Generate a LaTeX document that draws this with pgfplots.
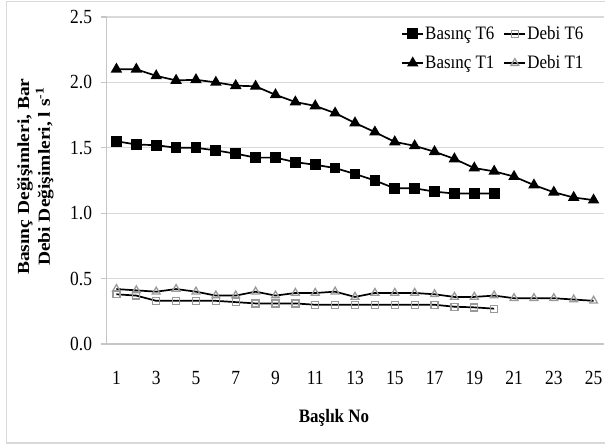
\documentclass[border=0pt]{standalone}
\usepackage{fontspec}
\setmainfont{Liberation Serif}
\usepackage{pgfplots}
\pgfplotsset{compat=1.18}
\begin{document}
\begin{tikzpicture}[x=1bp,y=1bp]
\useasboundingbox (0,0) rectangle (605,445);
\draw[gray!30, line width=1.5bp] (6.5,2) rectangle (610,443.5);
\begin{axis}[
  at={(106.5bp,101bp)}, anchor=south west,
  scale only axis, width=497bp, height=327bp,
  xmin=0.5, xmax=25.5, ymin=0, ymax=2.5,
  xtick={1,3,...,25},
  ytick={0,0.5,...,2.5},
  yticklabel style={/pgf/number format/fixed,/pgf/number format/precision=1,/pgf/number format/fixed zerofill, xshift=-5bp},
  /pgf/number format/assume math mode=true,
  ticklabel style={font=\fontsize{17.5}{20}\selectfont, yscale=1.15},
  xticklabel style={anchor=center, yshift=-24bp},
  xtick style={draw=none},
  ytick style={gray!45, line width=1.2bp},
  tick align=outside, major tick length=6bp,
  axis lines*=left,
  axis line style={gray!45, line width=1.3bp, -},
  ymajorgrids, grid style={gray!30, line width=1.3bp},
  xlabel={Başlık No},
  xlabel style={font=\fontsize{17}{20}\selectfont\bfseries, at={(axis description cs:0.5,0)}, anchor=center, yshift=-74bp, xshift=-21bp, yscale=1.12},
  ylabel={Basınç Değişimleri, Bar\\Debi Değişimleri, l s\textsuperscript{-1}},
  ylabel style={font=\fontsize{17}{21}\selectfont\bfseries, align=center, at={(axis description cs:-0.143,0.512)}, anchor=center, xscale=1.15},
  legend columns=2,
  legend style={at={(rel axis cs:1,1)}, anchor=north east, xshift=-19bp, yshift=-7bp, draw=none, fill=none, font=\fontsize{17}{20}\selectfont, inner sep=0pt,
    /tikz/every even column/.append style={column sep=8bp}, row sep=10bp, nodes={yscale=1.12, inner xsep=1bp}},
  legend cell align=left,
  legend image code/.code={\draw[mark repeat=2,mark phase=2] plot coordinates {(0cm,0cm) (0.375cm,0cm) (0.75cm,0cm)};},
  every axis plot/.append style={black, line width=1.7bp},
]
\addplot[mark=square*, mark size=4.5bp, mark options={fill=black, solid}] coordinates {
(1,1.55) (2,1.525) (3,1.52) (4,1.50) (5,1.50) (6,1.48) (7,1.455) (8,1.425) (9,1.425) (10,1.39)
(11,1.37) (12,1.345) (13,1.30) (14,1.25) (15,1.19) (16,1.19) (17,1.165) (18,1.15) (19,1.15) (20,1.15)};
\addlegendentry{Basınç T6}
\addplot[mark=square, mark size=3.5bp, mark options={draw=gray!80, fill=white, line width=1.3bp, solid}] coordinates {
(1,0.38) (2,0.37) (3,0.33) (4,0.33) (5,0.33) (6,0.33) (7,0.32) (8,0.31) (9,0.31) (10,0.31)
(11,0.30) (12,0.30) (13,0.30) (14,0.30) (15,0.30) (16,0.30) (17,0.30) (18,0.285) (19,0.28) (20,0.27)};
\addlegendentry{Debi T6}
\addplot[mark=triangle*, mark size=5bp, mark options={fill=black, solid}] coordinates {
(1,2.10) (2,2.10) (3,2.05) (4,2.015) (5,2.02) (6,2.00) (7,1.975) (8,1.97) (9,1.905) (10,1.85)
(11,1.82) (12,1.765) (13,1.69) (14,1.62) (15,1.545) (16,1.515) (17,1.47) (18,1.415) (19,1.345) (20,1.32)
(21,1.28) (22,1.215) (23,1.16) (24,1.12) (25,1.10)};
\addlegendentry{Basınç T1}
\addplot[mark=triangle, mark size=4.5bp, mark options={draw=gray!80, fill=white, line width=1.3bp, solid}] coordinates {
(1,0.42) (2,0.41) (3,0.40) (4,0.42) (5,0.40) (6,0.37) (7,0.37) (8,0.40) (9,0.37) (10,0.39)
(11,0.39) (12,0.40) (13,0.36) (14,0.39) (15,0.39) (16,0.39) (17,0.38) (18,0.36) (19,0.36) (20,0.37)
(21,0.35) (22,0.35) (23,0.35) (24,0.34) (25,0.33)};
\addlegendentry{Debi T1}
\end{axis}
\end{tikzpicture}
\end{document}
